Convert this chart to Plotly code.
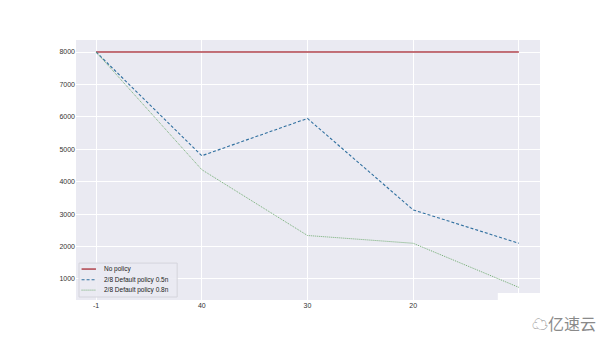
import plotly.graph_objects as go

categories = ["-1", "40", "30", "20", "10"]
no_policy = [8000, 8000, 8000, 8000, 8000]
policy_05n = [8000, 4800, 5950, 3130, 2100]
policy_08n = [8000, 4370, 2340, 2100, 740]
y_ticks = [1000, 2000, 3000, 4000, 5000, 6000, 7000, 8000]
series_names = ["No policy", "2/8 Default policy 0.5n", "2/8 Default policy 0.8n"]

colors = ["#b0434d", "#2f6f9f", "#72ad72"]
dashes = ["solid", "3px,2px", "1px,1px"]
widths = [1.5, 1.1, 1.0]

fig = go.Figure()
for name, ys, c, d, w in zip(series_names, [no_policy, policy_05n, policy_08n], colors, dashes, widths):
    fig.add_trace(go.Scatter(x=categories, y=ys, mode="lines", name=name,
                             line=dict(color=c, width=w, dash=d)))

fig.update_layout(
    width=600, height=337,
    margin=dict(l=76, r=60, t=40, b=37),
    paper_bgcolor="white", plot_bgcolor="#EAEAF2",
    font=dict(family="Liberation Sans, Arial, sans-serif", size=7, color="#333333"),
    showlegend=False,
    xaxis=dict(type="category", range=[-0.19, 4.2], showgrid=True, gridcolor="white", gridwidth=1,
               zeroline=False, showline=False, ticks="", tickfont=dict(size=7, color="#333333")),
    yaxis=dict(range=[350, 8370], tickvals=y_ticks, showgrid=True, gridcolor="white", gridwidth=1,
               zeroline=False, showline=False, ticks="", tickfont=dict(size=7, color="#333333")),
)

# legend (drawn manually for compact spacing)
fig.add_shape(type="rect", xref="paper", yref="paper", x0=0.0065, x1=0.218, y0=0.0115, y1=0.142,
              fillcolor="rgba(234,234,242,0.9)", line=dict(color="#d4d4dc", width=1))
leg_y = [0.119, 0.078, 0.038]
for name, c, d, w, yy in zip(series_names, colors, dashes, widths, leg_y):
    fig.add_shape(type="line", xref="paper", yref="paper", x0=0.012, x1=0.043, y0=yy, y1=yy,
                  line=dict(color=c, width=w, dash=d))
    fig.add_annotation(xref="paper", yref="paper", x=0.056, y=yy, xanchor="left", yanchor="middle",
                       text=name, showarrow=False, font=dict(size=6.5, color="#222222"))

# watermark box
fig.add_shape(type="rect", xref="paper", yref="paper", x0=0.909, x1=1.15, y0=-0.15, y1=0.027,
              fillcolor="white", line=dict(width=0), layer="above")
fig.add_annotation(xref="paper", yref="paper", x=1.125, y=-0.09, xanchor="right", yanchor="middle",
                   text="☁亿速云", showarrow=False,
                   font=dict(family="Noto Sans CJK SC", size=16, color="#8a8a8a"))

fig.write_html("out.html")
